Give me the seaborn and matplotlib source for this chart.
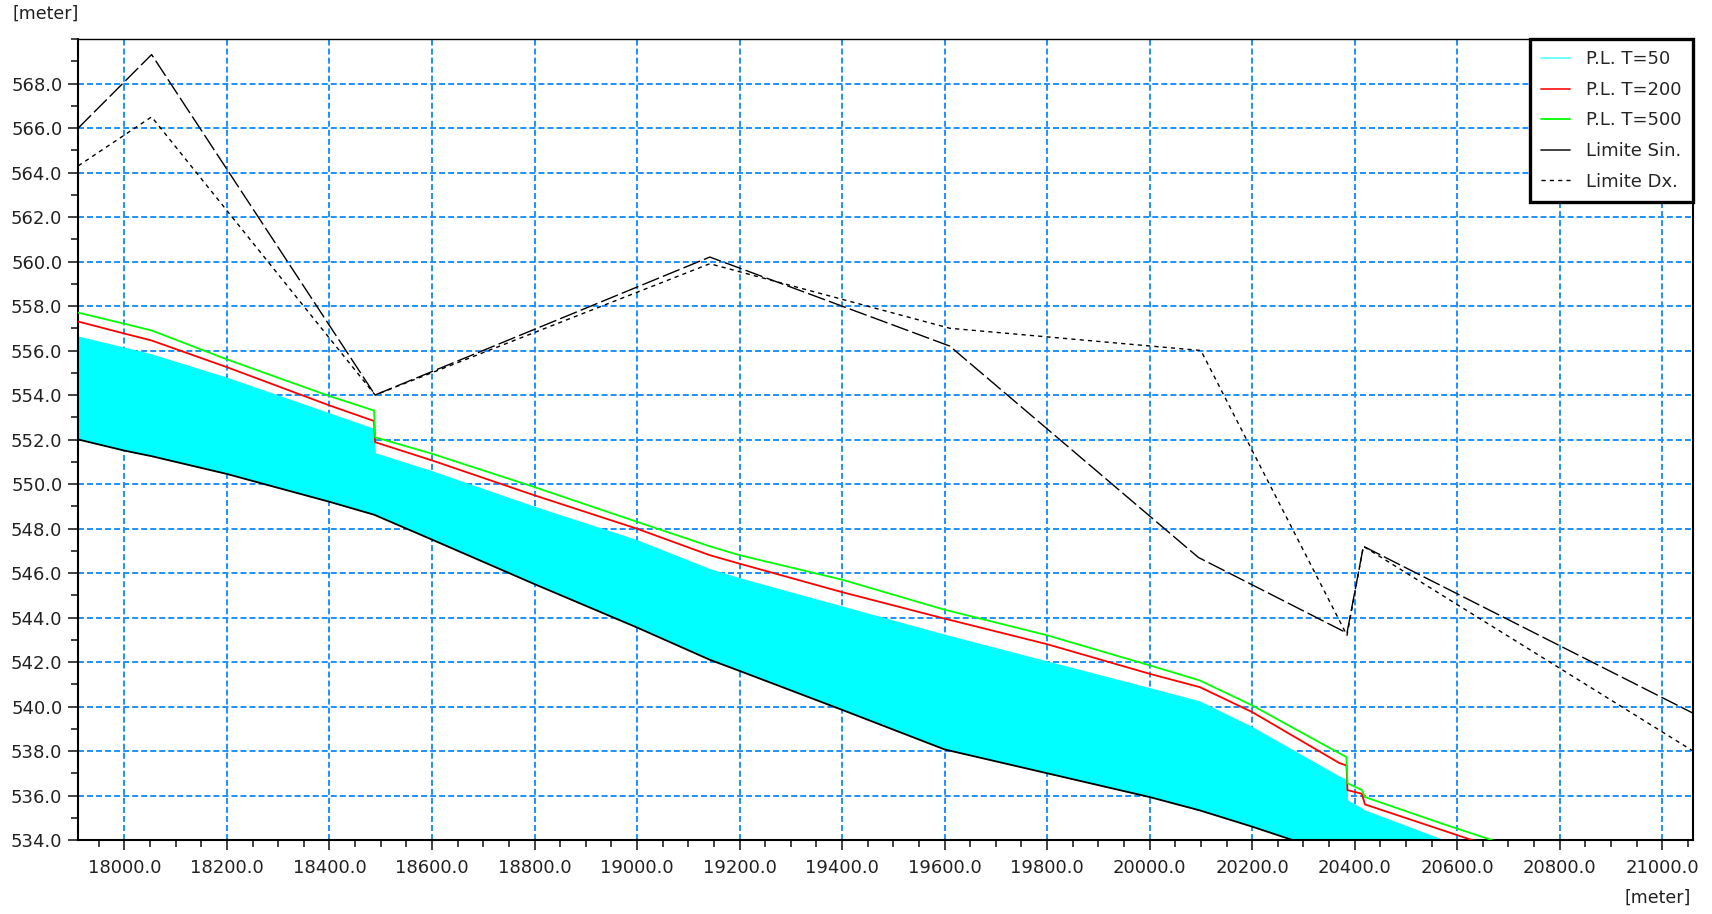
import matplotlib
matplotlib.use("Agg")
import matplotlib.pyplot as plt
from matplotlib.lines import Line2D
from matplotlib.ticker import MultipleLocator, FormatStrFormatter
import numpy as np
import pandas as pd
import seaborn as sns

# ---------------- data ----------------
station = [17910, 18000, 18053, 18200, 18400, 18487, 18489, 18600, 18800, 19000,
           19142, 19200, 19400, 19600, 19800, 20000, 20098, 20200, 20370, 20384,
           20386, 20414, 20420, 20570, 20700, 21060]
pl_t50 = [556.6, 556.1, 555.8, 554.75, 553.15, 552.45, 551.36, 550.55, 548.95, 547.45,
          546.15, 545.74, 544.47, 543.2, 542.0, 540.8, 540.2, 539.05, 536.83, 536.68,
          535.75, 535.4, 535.3, 534.0, 533.2, 531.0]
pl_t200 = [557.3, 556.76, 556.45, 555.25, 553.53, 552.83, 551.88, 551.06, 549.49, 547.99,
           546.8, 546.42, 545.14, 543.95, 542.8, 541.47, 540.87, 539.75, 537.46, 537.35,
           536.24, 536.08, 535.6, 534.45, 533.45, 531.4]
pl_t500 = [557.7, 557.2, 556.9, 555.6, 553.95, 553.3, 552.1, 551.36, 549.86, 548.3,
           547.2, 546.8, 545.7, 544.35, 543.2, 541.85, 541.17, 540.05, 537.9, 537.73,
           536.55, 536.25, 535.93, 534.74, 533.75, 531.5]
bed = [552.0, 551.5, 551.25, 550.45, 549.2, 548.62, 548.6, 547.5, 545.5, 543.55,
       542.1, 541.6, 539.85, 538.07, 537.0, 535.93, 535.33, 534.6, 533.3, 533.2,
       533.19, 533.0, 532.97, 532.3, 531.6, 529.8]

sin_x = [17910, 18053, 18489, 19142, 19610, 20095, 20385, 20417, 21060]
sin_y = [566.0, 569.3, 554.0, 560.2, 556.2, 546.7, 543.3, 547.2, 539.7]
dx_x = [17910, 18053, 18489, 19142, 19610, 20100, 20385, 20417, 21060]
dx_y = [564.3, 566.5, 554.0, 559.9, 557.0, 556.0, 543.2, 547.2, 538.0]

legend_labels = ["P.L. T=50", "P.L. T=200", "P.L. T=500", "Limite Sin.", "Limite Dx."]
x_ticks = list(range(18000, 21001, 200))
y_ticks = list(range(534, 569, 2))

# ---------------- style ----------------
sns.set_theme(style="white")
plt.rcParams["font.family"] = ["DejaVu Sans"]
plt.rcParams["lines.scale_dashes"] = False

fig = plt.figure(figsize=(17.12, 9.14), dpi=100)
ax = fig.add_axes([0.04574, 0.08096, 0.94316, 0.87637])
ax.set_axisbelow(True)

GRID = "#1E90FF"

# water: fill between bed and T=50
ax.fill_between(station, bed, pl_t50, color="#00FFFF", lw=0, zorder=1)

df = pd.DataFrame({"x": station, "t50": pl_t50, "t200": pl_t200, "t500": pl_t500, "bed": bed})
sns.lineplot(data=df, x="x", y="t50", color="#00FFFF", lw=1.0, sort=False, estimator=None, ax=ax, zorder=2)
sns.lineplot(data=df, x="x", y="bed", color="black", lw=1.3, sort=False, estimator=None, ax=ax, zorder=3)
sns.lineplot(data=df, x="x", y="t200", color="#FF0000", lw=1.3, sort=False, estimator=None, ax=ax, zorder=4)
sns.lineplot(data=df, x="x", y="t500", color="#00FF00", lw=1.3, sort=False, estimator=None, ax=ax, zorder=5)

sns.lineplot(x=sin_x, y=sin_y, color="black", lw=1.0, sort=False, estimator=None, ax=ax, zorder=6)
ax.lines[-1].set_dashes([13, 3])
sns.lineplot(x=dx_x, y=dx_y, color="black", lw=1.0, sort=False, estimator=None, ax=ax, zorder=6)
ax.lines[-1].set_dashes([3, 3])

# axes
ax.set_xlim(17910, 21060)
ax.set_ylim(534, 570)
ax.set_xticks(x_ticks)
ax.set_yticks(y_ticks)
ax.xaxis.set_minor_locator(MultipleLocator(50))
ax.yaxis.set_minor_locator(MultipleLocator(1))
ax.xaxis.set_major_formatter(FormatStrFormatter("%.1f"))
ax.yaxis.set_major_formatter(FormatStrFormatter("%.1f"))
ax.set_xlabel("")
ax.set_ylabel("")

ax.grid(True, which="major", color=GRID, linestyle=(0, (4.3, 2.2)), linewidth=1.4)
ax.tick_params(axis="both", which="major", direction="out", length=7.5, width=1.2,
               color="#222222", labelsize=13, labelcolor="#222222")
ax.tick_params(axis="y", which="major", pad=4)
ax.tick_params(axis="x", which="major", pad=6)
ax.tick_params(axis="both", which="minor", direction="out", length=4.8, width=1.2, color="#222222")
ax.tick_params(left=True, bottom=True, which="both")

for side in ["left", "bottom", "right"]:
    ax.spines[side].set_color("black")
    ax.spines[side].set_linewidth(1.5)
    ax.spines[side].set_visible(True)
ax.spines["top"].set_color("black")
ax.spines["top"].set_linewidth(1.0)
ax.spines["top"].set_visible(True)

# legend
handles = [
    Line2D([], [], color="#60FFFF", lw=1.3),
    Line2D([], [], color="#FF2020", lw=1.3),
    Line2D([], [], color="#00FF00", lw=1.3),
    Line2D([], [], color="#333333", lw=1.3),
    Line2D([], [], color="black", lw=1.0, dashes=[3, 3]),
]
leg = ax.legend(handles, legend_labels, loc="upper right", borderaxespad=0.0,
                fontsize=13, frameon=True, fancybox=False, framealpha=1.0,
                edgecolor="black", handlelength=1.6, handletextpad=0.9,
                labelspacing=0.7, borderpad=0.62)
leg.get_frame().set_linewidth(2.4)
leg.set_zorder(10)

fig.text(13 / 1712, 1 - 14 / 914, "[meter]", fontsize=12.5, color="#222222", ha="left", va="center")
fig.text(1691 / 1712, 1 - 898 / 914, "[meter]", fontsize=12.5, color="#222222", ha="right", va="center")

fig.savefig("out.png", dpi=100)
